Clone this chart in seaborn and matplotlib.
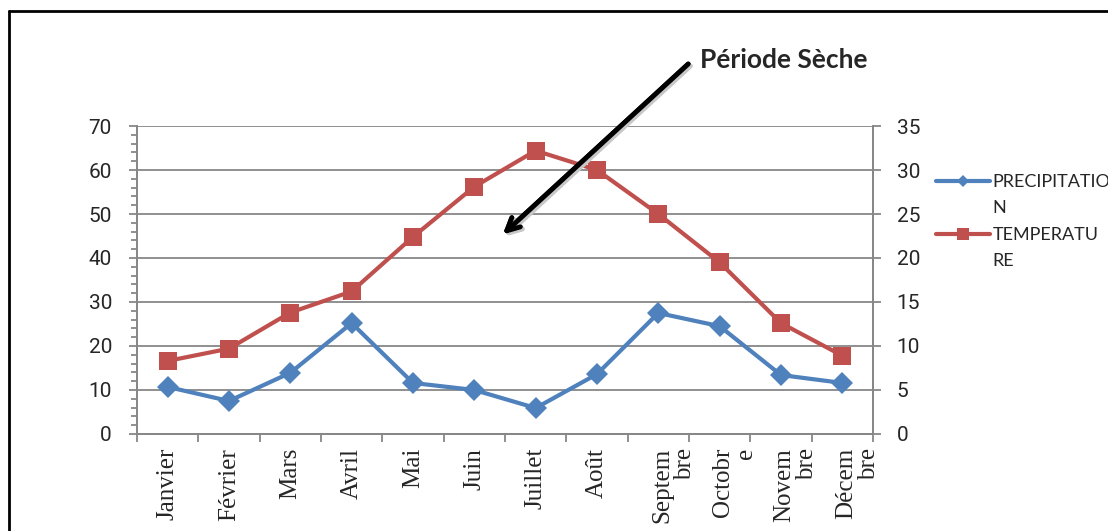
import matplotlib
matplotlib.use("Agg")
import matplotlib.pyplot as plt
import matplotlib.transforms as mtransforms
from matplotlib import font_manager
from matplotlib.lines import Line2D
from matplotlib.legend_handler import HandlerLine2D
from matplotlib.ticker import MultipleLocator, FixedLocator
import seaborn as sns
import pandas as pd

mois = ["Janvier", "Février", "Mars", "Avril", "Mai", "Juin", "Juillet",
        "Août", "Septem\nbre", "Octobr\ne", "Novem\nbre", "Décem\nbre"]
precipitation = [10.7, 7.5, 13.9, 25.2, 11.6, 10.0, 5.9, 13.6, 27.5, 24.5, 13.4, 11.6]
temperature = [8.3, 9.7, 13.8, 16.2, 22.4, 28.1, 32.2, 30.0, 25.0, 19.5, 12.6, 8.9]

df = pd.DataFrame({"Mois": mois, "PRECIPITATION": precipitation, "TEMPERATURE": temperature})

bleu = "#4F81BD"
rouge = "#C0504D"
gris = "#878787"

sns.set_style("white")
noms = {f.name for f in font_manager.fontManager.ttflist}
if "Liberation Sans Narrow" in noms:
    fonte_ticks, taille_ticks = "Liberation Sans Narrow", 17
else:
    fonte_ticks, taille_ticks = "Roboto", 15


class LigneEnHaut(HandlerLine2D):
    # place le symbole de légende au niveau de la première ligne du texte
    def create_artists(self, legend, orig_handle, xdescent, ydescent, width,
                       height, fontsize, trans):
        arts = super().create_artists(legend, orig_handle, xdescent, ydescent,
                                      width, height, fontsize, trans)
        for a in arts:
            a.set_ydata([y + fontsize * 0.75 for y in a.get_ydata()])
        return arts


fig = plt.figure(figsize=(11.08, 5.31), dpi=100)
ax = fig.add_axes([0.1236, 0.1827, 0.6643, 0.58])
ax2 = ax.twinx()

sns.lineplot(data=df, x="Mois", y="PRECIPITATION", ax=ax, sort=False, color=bleu,
             linewidth=3, marker="D", markersize=11, markeredgewidth=0)
sns.lineplot(data=df, x="Mois", y="TEMPERATURE", ax=ax2, sort=False, color=rouge,
             linewidth=3, marker="s", markersize=13, markeredgewidth=0)

ax.set_xlim(-0.5, 11.5)
ax.set_ylim(0, 70)
ax2.set_ylim(0, 35)
ax.set_xlabel("")
ax.set_ylabel("")
ax2.set_ylabel("")

# grille
ax.yaxis.set_major_locator(MultipleLocator(10))
ax.yaxis.set_minor_locator(MultipleLocator(2))
ax.grid(axis="y", which="major", color=gris, linewidth=1.3)
ax.grid(axis="x", visible=False)
ax2.grid(False)
ax2.yaxis.set_major_locator(MultipleLocator(5))

for a in (ax, ax2):
    a.spines["top"].set_visible(False)
    for s in ("left", "right", "bottom"):
        a.spines[s].set_color(gris)
        a.spines[s].set_linewidth(1.3)

ax.tick_params(axis="y", which="major", direction="out", length=6, width=1.3,
               color=gris, pad=12, labelsize=taille_ticks, left=True)
ax.tick_params(axis="y", which="minor", direction="out", length=4, width=1.3,
               color=gris, left=True)
ax2.tick_params(axis="y", which="major", direction="out", length=6, width=1.3,
                color=gris, pad=11, labelsize=taille_ticks, right=True)
for lbl in ax.get_yticklabels() + ax2.get_yticklabels():
    lbl.set_family(fonte_ticks)

# axe des x : graduations entre les catégories
ax.xaxis.set_minor_locator(FixedLocator([i - 0.5 for i in range(len(mois) + 1)]))
ax.tick_params(axis="x", which="minor", direction="out", length=6, width=1.3,
               color=gris, bottom=True)
ax.tick_params(axis="x", which="major", length=0, pad=10)
ax.set_xticks(range(len(mois)))
ax.set_xticklabels(mois, rotation=90, ha="center", va="top",
                   family="Liberation Serif", fontsize=18, multialignment="right")
decal = mtransforms.ScaledTranslation(15 / 100, 0, fig.dpi_scale_trans)
for lbl in ax.get_xticklabels():
    lbl.set_linespacing(1.05)
    if "\n" in lbl.get_text():
        lbl.set_transform(lbl.get_transform() + decal)

# légende
poignees = [
    Line2D([], [], color=bleu, linewidth=3, marker="D", markersize=6, markeredgewidth=0),
    Line2D([], [], color=rouge, linewidth=3, marker="s", markersize=8, markeredgewidth=0),
]
leg = fig.legend(poignees, ["PRECIPITATIO\nN", "TEMPERATU\nRE"], loc="upper left",
                 bbox_to_anchor=(0.830, 0.703), frameon=False, handlelength=3.0,
                 handletextpad=0.15, labelspacing=0.62,
                 prop={"family": "Lato", "size": 13},
                 handler_map={Line2D: LigneEnHaut()})
for t in leg.get_texts():
    t.set_linespacing(1.75)

# flèche de la période sèche
fig.text(0.632, 0.887, "Période Sèche", family="Lato", fontweight="bold",
         fontsize=19, ha="left", va="center")
ombre = mtransforms.ScaledTranslation(2 / 100, -2 / 100, fig.dpi_scale_trans)
for couleur, tr in (("#c8c8c8", fig.transFigure + ombre), ("black", fig.transFigure)):
    fig.add_artist(plt.annotate("", xy=(0.452, 0.555), xytext=(0.623, 0.883),
                                xycoords=tr, textcoords=tr,
                                arrowprops=dict(arrowstyle="->,head_length=0.9,head_width=0.45",
                                                color=couleur, lw=3.5)))

# cadre
fig.add_artist(Line2D([0.008, 0.008], [0, 0.979], transform=fig.transFigure, color="black", lw=2))
fig.add_artist(Line2D([0.008, 1.0], [0.979, 0.979], transform=fig.transFigure, color="black", lw=2))

fig.savefig("out.png", dpi=100)
